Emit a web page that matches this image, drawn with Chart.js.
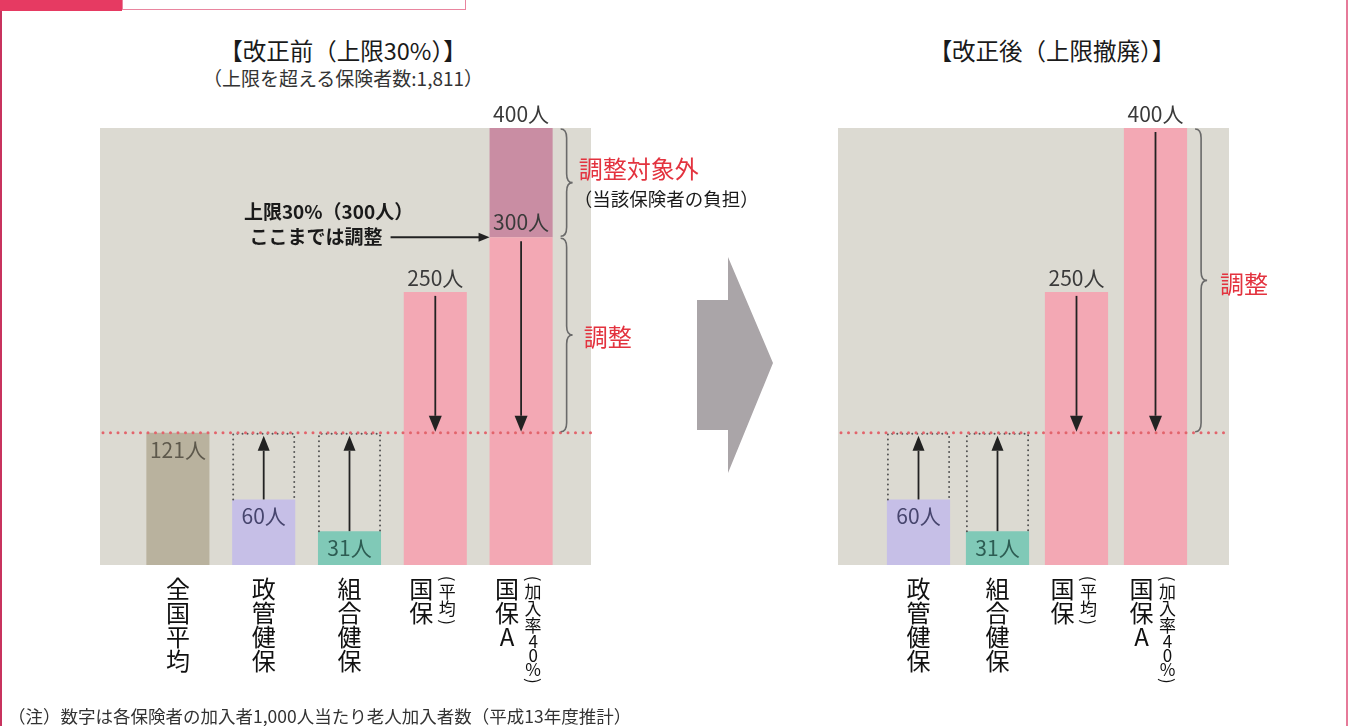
<!DOCTYPE html>
<html lang="ja">
<head>
<meta charset="utf-8">
<title>老人加入率の上限撤廃</title>
<script src="https://cdn.jsdelivr.net/npm/chart.js"></script>
<style>
  html, body { margin: 0; padding: 0; background: #fff; }
  body { width: 1353px; height: 726px; position: relative; overflow: hidden; font-family: "Noto Sans CJK JP", sans-serif; color: #1a1a1a; }
  canvas { position: absolute; top: 0; }
  #before { left: 0; }
  #after { left: 780px; }
  .title { position: absolute; font-size: 23.5px; line-height: 28px; white-space: nowrap; transform: translateX(-50%); }
  .sub { position: absolute; font-size: 19px; line-height: 22px; white-space: nowrap; transform: translateX(-50%); color: #333; }
  .note { position: absolute; left: 8px; top: 706px; font-size: 17.5px; line-height: 20px; color: #333; white-space: nowrap; }
  .edge-l { position: absolute; left: 0; top: 0; width: 2px; height: 726px; background: #c8335e; }
  .edge-r { position: absolute; left: 1346px; top: 0; width: 2px; height: 726px; background: #e67a99; }
  .tab-fill { position: absolute; left: 0; top: 0; width: 122px; height: 11px; background: #e63a62; }
  .tab-box { position: absolute; left: 122px; top: -2px; width: 342px; height: 11px; border: 1.5px solid #e9859f; border-top: none; }
  .big-arrow { position: absolute; left: 697px; top: 257px; width: 76px; height: 216px; background: #aaa5a8;
    clip-path: polygon(0 43px, 31px 43px, 31px 0, 76px 106px, 31px 216px, 31px 173px, 0 173px); }
</style>
</head>
<body>
<div class="edge-l"></div>
<div class="edge-r"></div>
<div class="tab-fill"></div>
<div class="tab-box"></div>

<div class="title" style="left:343px; top:36px;">【改正前（上限30%）】</div>
<div class="sub" style="left:343px; top:67px;">（上限を超える保険者数:1,811）</div>
<div class="title" style="left:1052px; top:36px;">【改正後（上限撤廃）】</div>

<div class="big-arrow"></div>

<canvas id="before" width="760" height="726"></canvas>
<canvas id="after" width="540" height="726"></canvas>

<div class="note">（注）数字は各保険者の加入者1,000人当たり老人加入者数（平成13年度推計）</div>

<script>
// --- data ---
const catsBefore = ['全国平均', '政管健保', '組合健保', '国保', '国保A'];
const notesBefore = ['', '', '', '平均', '加入率40%'];
const valuesBefore = [121, 60, 31, 250, 400];
const capBefore = 300;

const catsAfter = ['政管健保', '組合健保', '国保', '国保A'];
const notesAfter = ['', '', '平均', '加入率40%'];
const valuesAfter = [60, 31, 250, 400];

const nationalAvg = 121;
const yMax = 400;
const unit = '人';

// --- styles ---
const FONT = '"Noto Sans CJK JP", "Noto Sans CJK SC", sans-serif';
const panelColor = '#dcdad2';
const barColor = { 全国平均: '#b9b29e', 政管健保: '#c6bfe7', 組合健保: '#80c9b7', 国保: '#f3a8b4', 国保A: '#f3a8b4' };
const overCapColor = '#c98da3';
const labelColor = { 全国平均: '#5e594c', 政管健保: '#47456e', 組合健保: '#2d5d53', 国保: '#3d3d3d', 国保A: '#3d3d3d' };
const red = '#e3333f';

function arrowLine(ctx, x, y1, y2, hl, hw) {
  const dir = y2 > y1 ? 1 : -1;
  ctx.beginPath();
  ctx.moveTo(x, y1);
  ctx.lineTo(x, y2 - dir * hl);
  ctx.stroke();
  ctx.beginPath();
  ctx.moveTo(x, y2);
  ctx.lineTo(x - hw / 2, y2 - dir * hl);
  ctx.lineTo(x + hw / 2, y2 - dir * hl);
  ctx.closePath();
  ctx.fill();
}

function brace(ctx, x, y1, y2, w) {
  const m = (y1 + y2) / 2, r = Math.min(9, (y2 - y1) / 4), hx = x + w / 2;
  ctx.beginPath();
  ctx.moveTo(x, y1);
  ctx.quadraticCurveTo(hx, y1, hx, y1 + r);
  ctx.lineTo(hx, m - r);
  ctx.quadraticCurveTo(hx, m, x + w, m);
  ctx.quadraticCurveTo(hx, m, hx, m + r);
  ctx.lineTo(hx, y2 - r);
  ctx.quadraticCurveTo(hx, y2, x, y2);
  ctx.stroke();
}

function advance(ch, size) {
  if (/[()（）]/.test(ch)) return 0.55 * size;
  if (/[0-9%]/.test(ch)) return 0.82 * size;
  return size;
}

// vertical (tategaki) text column, parens turned sideways
function vtext(ctx, str, x, y, size) {
  ctx.font = `${size}px ${FONT}`;
  ctx.textAlign = 'center';
  ctx.textBaseline = 'middle';
  let cy = y;
  for (const ch of str) {
    const a = advance(ch, size);
    if (/[()（）]/.test(ch)) {
      ctx.save();
      ctx.translate(x, cy + a / 2);
      ctx.rotate(Math.PI / 2);
      ctx.fillText(ch, 0, 0);
      ctx.restore();
    } else {
      ctx.fillText(ch, x, cy + a / 2);
    }
    cy += a;
  }
}

const decor = {
  id: 'decor',
  beforeDatasetsDraw(chart, args, o) {
    const { ctx, chartArea: a } = chart;
    ctx.save();
    ctx.fillStyle = panelColor;
    ctx.fillRect(a.left - o.panelLeft, a.top, a.width + o.panelLeft + o.panelRight, a.height);
    ctx.restore();
  },
  afterDatasetsDraw(chart, args, o) {
    const { ctx, chartArea: a } = chart;
    const y = chart.scales.y;
    const bars = chart.getDatasetMeta(0).data;
    const avgY = y.getPixelForValue(nationalAvg);
    ctx.save();

    // arrows and dotted boxes
    o.values.forEach((v, i) => {
      const b = bars[i], half = b.width / 2, topY = y.getPixelForValue(v);
      ctx.strokeStyle = '#222';
      ctx.fillStyle = '#222';
      ctx.lineWidth = 1.8;
      ctx.setLineDash([]);
      if (o.labels[i] === '全国平均') return;
      if (v < nationalAvg) {
        ctx.save();
        ctx.strokeStyle = '#555';
        ctx.lineWidth = 2;
        ctx.lineCap = 'round';
        ctx.setLineDash([0, 5]);
        ctx.beginPath();
        ctx.moveTo(b.x - half + 1, topY);
        ctx.lineTo(b.x - half + 1, avgY + 1);
        ctx.lineTo(b.x + half - 1, avgY + 1);
        ctx.lineTo(b.x + half - 1, topY);
        ctx.stroke();
        ctx.restore();
        arrowLine(ctx, b.x, topY, avgY + 3, 15, 12);
      } else {
        const start = o.cap && v > o.cap ? y.getPixelForValue(o.cap) : topY;
        arrowLine(ctx, b.x, start + 4, avgY - 1, 16, 13);
      }
    });

    // national average line
    ctx.save();
    ctx.strokeStyle = '#e2646c';
    ctx.lineWidth = 3;
    ctx.lineCap = 'round';
    ctx.setLineDash([0, 7.5]);
    ctx.beginPath();
    ctx.moveTo(a.left - o.panelLeft + 3, avgY);
    ctx.lineTo(a.right + o.panelRight, avgY);
    ctx.stroke();
    ctx.restore();

    // value labels
    ctx.font = `21px ${FONT}`;
    ctx.textAlign = 'center';
    ctx.textBaseline = 'middle';
    o.values.forEach((v, i) => {
      const b = bars[i], topY = y.getPixelForValue(v);
      if (v < nationalAvg + 30) {
        ctx.fillStyle = labelColor[o.labels[i]];
        ctx.fillText(v + unit, b.x, topY + 17);
      } else {
        ctx.fillStyle = '#3a3a3a';
        ctx.fillText(v + unit, b.x, topY - 14);
      }
      if (o.cap && v > o.cap) {
        ctx.fillStyle = '#3a3a3a';
        ctx.fillText(o.cap + unit, b.x, y.getPixelForValue(o.cap) - 15);
      }
    });

    // cap annotation
    if (o.cap) {
      const i = o.values.findIndex((v) => v > o.cap);
      const b = bars[i], capY = y.getPixelForValue(o.cap);
      const tip = b.x - b.width / 2, start = tip - 99;
      ctx.strokeStyle = '#222';
      ctx.fillStyle = '#222';
      ctx.lineWidth = 1.8;
      ctx.beginPath();
      ctx.moveTo(start, capY);
      ctx.lineTo(tip - 10, capY);
      ctx.stroke();
      ctx.beginPath();
      ctx.moveTo(tip, capY);
      ctx.lineTo(tip - 11, capY - 4.5);
      ctx.lineTo(tip - 11, capY + 4.5);
      ctx.closePath();
      ctx.fill();
      ctx.font = `bold 19px ${FONT}`;
      ctx.fillStyle = '#1a1a1a';
      ctx.textAlign = 'center';
      ctx.fillText(`上限30%（${o.cap}${unit}）`, start - 62, capY - 25);
      ctx.textAlign = 'right';
      ctx.fillText('ここまでは調整', start - 8, capY);
    }

    // braces
    const last = bars[bars.length - 1];
    const bx = last.x + last.width / 2 + 8;
    o.braces.forEach((br) => {
      const y1 = y.getPixelForValue(br.from), y2 = y.getPixelForValue(br.to);
      ctx.strokeStyle = '#6a6a6a';
      ctx.lineWidth = 1.6;
      brace(ctx, bx, y1 + 1, y2 - 1, 12);
      const mid = (y1 + y2) / 2;
      br.lines.forEach((ln) => {
        ctx.font = `${ln.size}px ${FONT}`;
        ctx.fillStyle = ln.color;
        ctx.textAlign = 'left';
        ctx.textBaseline = 'middle';
        ctx.fillText(ln.text, bx + ln.dx, mid + ln.dy);
      });
    });

    // category labels (vertical)
    ctx.fillStyle = '#111';
    o.labels.forEach((c, i) => {
      const b = bars[i];
      const note = o.notes[i];
      vtext(ctx, c, note ? b.x - 14 : b.x, a.bottom + 12, 24);
      if (note) vtext(ctx, `(${note})`, b.x + 12, a.bottom + 9, 17);
    });
    ctx.restore();
  }
};

Chart.defaults.font.family = FONT;

function makeChart(id, labels, notes, values, cap, padding, panel, braces) {
  const datasets = cap
    ? [
        { data: values.map((v) => Math.min(v, cap)), backgroundColor: labels.map((c) => barColor[c]) },
        { data: values.map((v) => Math.max(v - cap, 0)), backgroundColor: overCapColor }
      ]
    : [{ data: values, backgroundColor: labels.map((c) => barColor[c]) }];
  return new Chart(document.getElementById(id), {
    type: 'bar',
    data: { labels, datasets },
    options: {
      responsive: false,
      animation: false,
      devicePixelRatio: 1,
      layout: { padding },
      datasets: { bar: { barPercentage: panel.barPct, categoryPercentage: 1, borderWidth: 0 } },
      scales: {
        x: { stacked: true, display: false },
        y: { stacked: true, display: false, min: 0, max: yMax }
      },
      plugins: {
        legend: { display: false },
        tooltip: { enabled: false },
        decor: { labels, notes, values, cap, braces, panelLeft: panel.left, panelRight: panel.right }
      }
    },
    plugins: [decor]
  });
}

makeChart('before', catsBefore, notesBefore, valuesBefore, capBefore,
  { left: 135, right: 196, top: 128, bottom: 161 },
  { left: 35, right: 27, barPct: 0.735 },
  [
    { from: yMax, to: capBefore, lines: [
      { text: '調整対象外', size: 24, color: red, dx: 18, dy: -14 },
      { text: '（当該保険者の負担）', size: 18.5, color: '#1a1a1a', dx: 13, dy: 16 }
    ] },
    { from: capBefore, to: nationalAvg, lines: [
      { text: '調整', size: 24, color: red, dx: 23, dy: 2 }
    ] }
  ]);

makeChart('after', catsAfter, notesAfter, valuesAfter, null,
  { left: 99, right: 125, top: 128, bottom: 161 },
  { left: 41, right: 34, barPct: 0.8 },
  [
    { from: yMax, to: nationalAvg, lines: [
      { text: '調整', size: 24, color: red, dx: 25, dy: 3 }
    ] }
  ]);
</script>
</body>
</html>
